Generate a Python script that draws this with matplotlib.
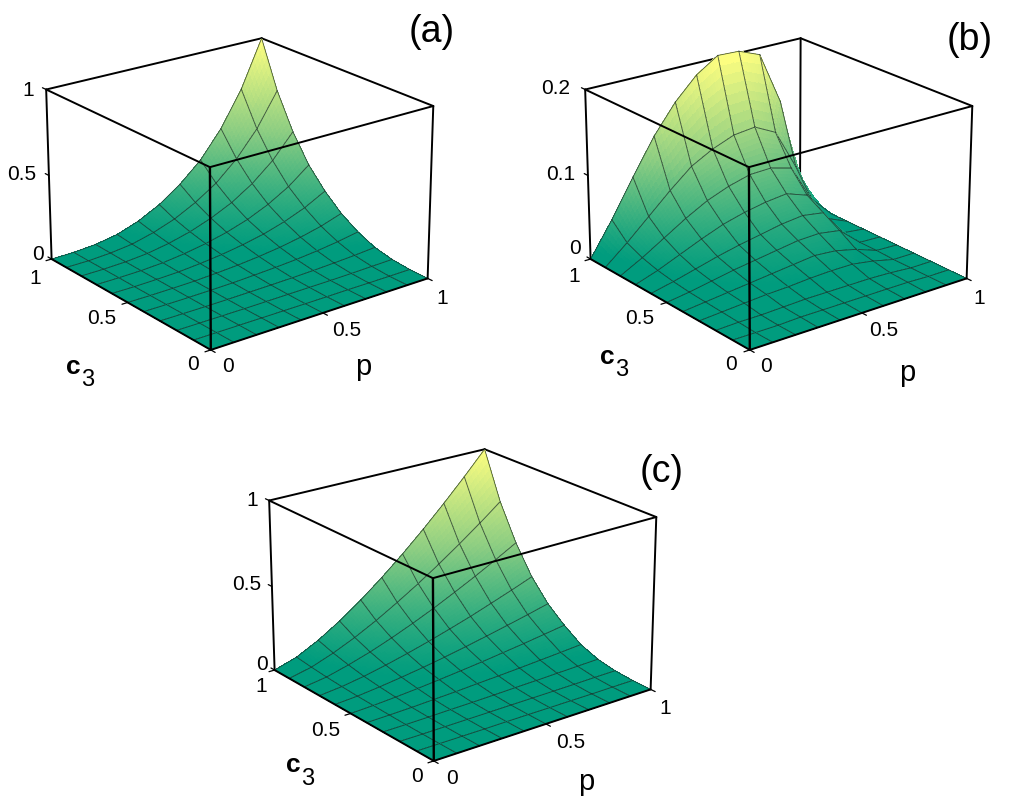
import numpy as np
import matplotlib
matplotlib.use('Agg')
import matplotlib.pyplot as plt
from matplotlib.colors import LinearSegmentedColormap

plt.rcParams['font.family'] = ['Liberation Sans', 'DejaVu Sans']

W, H = 1014, 810

p_values = [0, 0.1, 0.2, 0.3, 0.4, 0.5, 0.6, 0.7, 0.8, 0.9, 1]
c3_values = [0, 0.1, 0.2, 0.3, 0.4, 0.5, 0.6, 0.7, 0.8, 0.9, 1]

z_a = [
    [0, 0, 0, 0, 0, 0, 0, 0, 0, 0, 0],
    [0, 0, 0, 0, 0, 0, 0, .001, .001, .001, .002],
    [0, 0, 0, 0, .001, .002, .003, .004, .006, .009, .012],
    [0, 0, 0, .001, .003, .005, .008, .012, .018, .025, .035],
    [0, 0, .001, .003, .006, .012, .019, .028, .041, .058, .08],
    [0, 0, .002, .005, .012, .021, .034, .051, .074, .104, .145],
    [0, 0, .003, .008, .019, .034, .055, .082, .12, .169, .235],
    [0, .001, .004, .012, .028, .051, .082, .123, .179, .252, .35],
    [0, .001, .006, .018, .041, .074, .12, .179, .26, .367, .51],
    [0, .001, .009, .025, .058, .104, .169, .252, .367, .518, .72],
    [0, .002, .012, .035, .08, .145, .235, .35, .51, .72, 1],
]
z_b = [
    [0, 0, 0, 0, 0, 0, 0, 0, 0, 0, 0],
    [0, 0, 0, .001, .001, .001, .001, .001, .001, 0, 0],
    [0, .001, .001, .002, .003, .003, .003, .003, .002, 0, 0],
    [0, .002, .004, .006, .007, .009, .01, .01, .006, 0, 0],
    [0, .003, .006, .009, .012, .015, .018, .016, .01, .001, 0],
    [0, .004, .009, .014, .018, .022, .026, .027, .023, .001, 0],
    [0, .006, .013, .02, .026, .031, .036, .039, .035, .003, 0],
    [0, .009, .02, .031, .041, .048, .053, .056, .047, .011, 0],
    [0, .014, .03, .046, .06, .07, .077, .078, .071, .026, 0],
    [0, .022, .046, .07, .092, .106, .116, .119, .106, .057, 0],
    [0, .04, .084, .126, .16, .186, .203, .202, .192, .129, 0],
]
z_c = [
    [0, 0, 0, 0, 0, 0, 0, 0, 0, 0, 0],
    [0, 0, 0, 0, .001, .001, .001, .001, .001, .002, .002],
    [0, 0, .001, .002, .003, .004, .005, .006, .007, .009, .01],
    [0, .001, .003, .006, .008, .011, .015, .018, .022, .026, .03],
    [0, .003, .007, .013, .019, .027, .034, .042, .051, .06, .07],
    [0, .006, .015, .026, .039, .053, .068, .085, .102, .121, .14],
    [0, .009, .024, .042, .062, .085, .11, .137, .165, .194, .225],
    [0, .014, .036, .064, .096, .131, .169, .209, .253, .298, .345],
    [0, .02, .054, .094, .141, .193, .249, .31, .373, .44, .51],
    [0, .029, .076, .133, .199, .273, .352, .437, .527, .621, .72],
    [0, .04, .105, .185, .277, .379, .489, .607, .732, .863, 1],
]

cmap = LinearSegmentedColormap.from_list(
    'teal_yellow', [(0, '#009c7e'), (0.04, '#009c7e'), (0.5, '#8ccd82'), (1, '#ffff80')])

fig = plt.figure(figsize=(W / 100, H / 100), dpi=100)
fig.patch.set_facecolor('white')


def txt(x, y, s, size=15, weight='normal'):
    fig.text(x / W, 1 - y / H, s, fontsize=size, fontweight=weight,
             ha='center', va='center', color='black')


def draw_panel(left, top, z_table, zmax):
    size = 413.75
    ax = fig.add_axes([left / W, (H - top - size) / H, size / W, size / H],
                      projection='3d')
    ax.patch.set_alpha(0)
    ax.set_axis_off()
    ax.computed_zorder = False
    ax.view_init(21.47, -127.55)
    ax.set_proj_type('persp', focal_length=1.035)
    ax.set_box_aspect((1, 0.996, 0.674))

    def line(a, b, zo, lw=1.4, color='black'):
        ax.plot([a[0], b[0]], [a[1], b[1]], [a[2] * zmax, b[2] * zmax],
                color=color, lw=lw, zorder=zo, clip_on=False,
                solid_capstyle='round')

    # back part of the box
    line((0, 1, 1), (1, 1, 1), 0)
    line((1, 1, 1), (1, 0, 1), 0)
    line((1, 1, 1), (1, 1, 0), 0)
    line((0, 1, 1), (0, 1, 0), 0)
    line((1, 0, 1), (1, 0, 0), 0)

    # surface cell by cell from the far corner, so nearer cells hide further ones
    Z = np.array(z_table, dtype=float)
    t = np.linspace(0, 1, 9)
    zo = 1
    for i in range(len(p_values) - 2, -1, -1):
        for j in range(len(c3_values) - 2, -1, -1):
            p0, p1 = p_values[i], p_values[i + 1]
            c0, c1 = c3_values[j], c3_values[j + 1]
            u, v = np.meshgrid(t, t)
            X = p0 + (p1 - p0) * u
            Y = c0 + (c1 - c0) * v
            S = (Z[j, i] * (1 - u) * (1 - v) + Z[j, i + 1] * u * (1 - v)
                 + Z[j + 1, i] * (1 - u) * v + Z[j + 1, i + 1] * u * v)
            mid = (S[:-1, :-1] + S[1:, :-1] + S[:-1, 1:] + S[1:, 1:]) / 4
            colors = cmap(np.clip(mid / zmax, 0, 1))
            ax.plot_surface(X, Y, S, facecolors=colors, shade=False,
                            rstride=1, cstride=1, linewidth=0,
                            antialiased=False, zorder=zo)
            for a, b in (((p0, c0, Z[j, i]), (p1, c0, Z[j, i + 1])),
                         ((p0, c1, Z[j + 1, i]), (p1, c1, Z[j + 1, i + 1])),
                         ((p0, c0, Z[j, i]), (p0, c1, Z[j + 1, i])),
                         ((p1, c0, Z[j, i + 1]), (p1, c1, Z[j + 1, i + 1]))):
                ax.plot([a[0], b[0]], [a[1], b[1]], [a[2], b[2]],
                        color='#1f2f28', lw=0.6, alpha=0.8, zorder=zo + 0.5,
                        clip_on=False)
            zo += 1

    # front part of the box and ticks
    line((0, 0, 1), (0, 0, 0), zo, 1.7)
    line((0, 0, 1), (0, 1, 1), zo)
    line((0, 0, 1), (1, 0, 1), zo)
    line((0, 0, 0), (0, 1, 0), zo)
    line((0, 0, 0), (1, 0, 0), zo)
    for s in (0, 0.5, 1):
        line((s, 0, 0), (s, -0.025, 0), zo, 0.9)
        line((0, s, 0), (-0.025, s, 0), zo, 0.9)
        line((0, 1, s), (0, 1.025, s), zo, 0.9)

    ax.set_xlim(0, 1)
    ax.set_ylim(0, 1)
    ax.set_zlim(0, zmax)


draw_panel(25.32, -16.88, z_a, 1)
draw_panel(25.32 + 539, -16.88, z_b, 0.2)
draw_panel(25.32 + 223, -16.88 + 411, z_c, 1)

# panel a
txt(28, 90, '1'); txt(22, 175, '0.5'); txt(38, 255, '0')
txt(35, 278, '1'); txt(102, 318, '0.5'); txt(193, 365, '0')
txt(228, 367, '0'); txt(347, 330, '0.5'); txt(442, 298, '1')
txt(363, 367, 'p', 21)
txt(73, 367, 'c', 19, 'bold'); txt(88, 380, '3', 17)
txt(432, 32, '(a)', 27)

# panel b
txt(556, 88, '0.2'); txt(561, 174, '0.1'); txt(575, 249, '0')
txt(574, 277, '1'); txt(640, 318, '0.5'); txt(731, 365, '0')
txt(766, 367, '0'); txt(884, 331, '0.5'); txt(979, 298, '1')
txt(907, 373, 'p', 21)
txt(607, 357, 'c', 19, 'bold'); txt(622, 370, '3', 17)
txt(970, 40, '(b)', 27)

# panel c
txt(252, 500, '1'); txt(247, 585, '0.5'); txt(262, 665, '0')
txt(261, 687, '1'); txt(326, 730, '0.5'); txt(417, 776, '0')
txt(452, 778, '0'); txt(571, 742, '0.5'); txt(665, 709, '1')
txt(586, 782, 'p', 21)
txt(293, 765, 'c', 19, 'bold'); txt(308, 779, '3', 17)
txt(662, 472, '(c)', 27)

fig.savefig('out.png', dpi=100, facecolor='white')
